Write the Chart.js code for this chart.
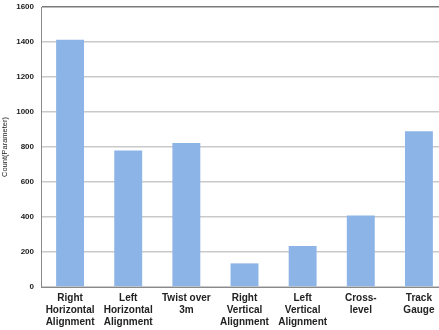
<!DOCTYPE html>
<html>
<head>
<meta charset="utf-8">
<script src="https://cdn.jsdelivr.net/npm/chart.js@4"></script>
<style>
  html, body { margin: 0; padding: 0; background: #fff; overflow: hidden; }
  #wrap { width: 448px; height: 330px; }
</style>
</head>
<body>
<div id="wrap"><canvas id="c" width="448" height="330"></canvas></div>
<script>
// ── Data ─────────────────────────────────────────────
const categories = [
  ['Right', 'Horizontal', 'Alignment'],
  ['Left', 'Horizontal', 'Alignment'],
  ['Twist over', '3m'],
  ['Right', 'Vertical', 'Alignment'],
  ['Left', 'Vertical', 'Alignment'],
  ['Cross-', 'level'],
  ['Track', 'Gauge'],
];
const counts = [1413, 780, 823, 135, 234, 408, 890];
const yTicks = [0, 200, 400, 600, 800, 1000, 1200, 1400, 1600];

const COLORS = {
  bar:  '#8cb4e6',
  grid: '#c9c9c9',
  top:  '#7a7a7a',
  axis: '#8a8a8a',
  text: '#222222',
};

const ctx = document.getElementById('c').getContext('2d');
new Chart(ctx, {
  type: 'bar',
  data: {
    labels: categories,
    datasets: [{
      label: 'Count(Parameter)',
      data: counts,
      backgroundColor: COLORS.bar,
      borderWidth: 0,
      categoryPercentage: 1,
      barPercentage: 0.48,
    }]
  },
  options: {
    responsive: false,
    animation: false,
    layout: { padding: { top: 7, left: 0, right: 0, bottom: 0 } },
    plugins: {
      legend: { display: false },
      tooltip: { enabled: false },
    },
    scales: {
      x: {
        grid: { display: false, drawTicks: false },
        border: { color: COLORS.axis, width: 1 },
        ticks: {
          color: COLORS.text,
          padding: 5,
          maxRotation: 0,
          autoSkip: false,
          font: { family: 'Liberation Sans', size: 10, weight: 'bold', lineHeight: 1.22 },
        },
        afterFit: s => { s.height = 43; },
      },
      y: {
        min: 0,
        max: 1600,
        afterBuildTicks: s => { s.ticks = yTicks.map(v => ({ value: v })); },
        grid: {
          color: c => c.tick && c.tick.value === 1600 ? COLORS.top : COLORS.grid,
          lineWidth: 1.5,
          drawTicks: false,
        },
        border: { color: COLORS.axis, width: 1 },
        ticks: {
          color: COLORS.text,
          padding: 7,
          callback: v => String(v),
          font: { family: 'Liberation Sans', size: 8, weight: 'bold' },
        },
        title: {
          display: true,
          text: 'Count(Parameter)',
          color: COLORS.text,
          padding: { top: 0, bottom: 4 },
          font: { family: 'Liberation Sans', size: 7.5 },
        },
        afterFit: s => { s.width = 41; s.paddingTop = 0; s.paddingBottom = 0; },
      },
    },
  },
});
</script>
</body>
</html>
